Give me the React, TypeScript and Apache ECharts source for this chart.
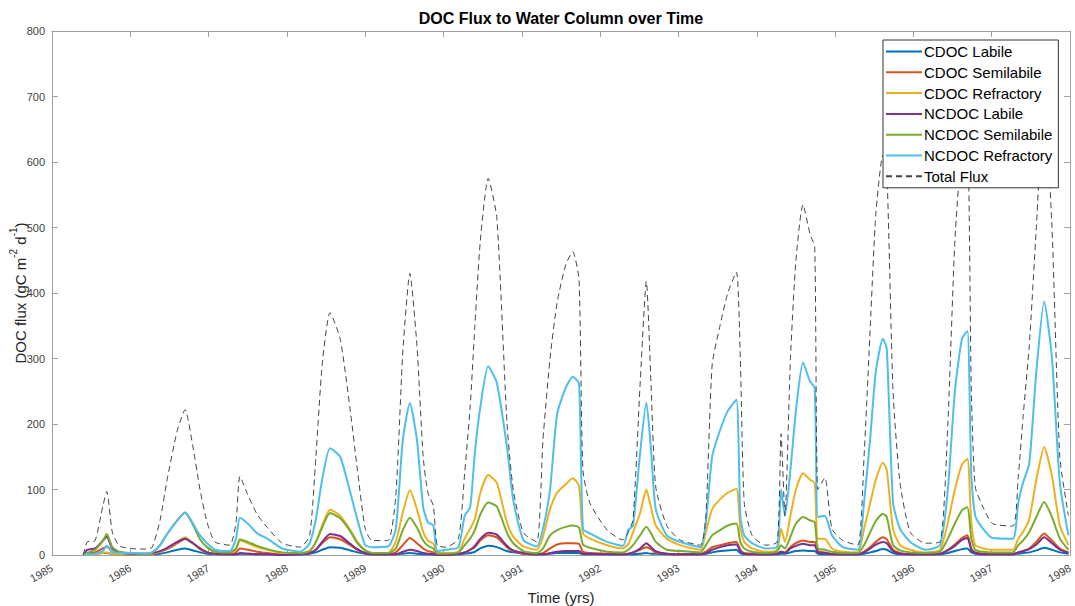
import React, { useEffect, useRef } from "react";
import * as echarts from "echarts";

const years = [
  1985.40, 1985.45, 1985.55, 1985.65, 1985.70, 1985.77, 1985.86, 1986.00, 1986.20, 1986.28,
  1986.38, 1986.47, 1986.60, 1986.70, 1986.80, 1986.89, 1986.98, 1987.08, 1987.27, 1987.35,
  1987.40, 1987.50, 1987.62, 1987.75, 1987.94, 1988.17, 1988.29, 1988.37, 1988.45, 1988.55,
  1988.68, 1988.81, 1988.90, 1989.00, 1989.09, 1989.29, 1989.39, 1989.48, 1989.57, 1989.66,
  1989.74, 1989.80, 1989.87, 1989.92, 1990.03, 1990.19, 1990.27, 1990.34, 1990.40, 1990.47,
  1990.57, 1990.68, 1990.81, 1990.89, 1991.02, 1991.19, 1991.27, 1991.36, 1991.45, 1991.56,
  1991.65, 1991.73, 1991.78, 1991.87, 1992.09, 1992.29, 1992.36, 1992.42, 1992.51, 1992.59,
  1992.65, 1992.71, 1992.85, 1993.02, 1993.28, 1993.35, 1993.43, 1993.53, 1993.63, 1993.74,
  1993.79, 1993.84, 1993.94, 1994.11, 1994.26, 1994.31, 1994.36, 1994.43, 1994.50, 1994.59,
  1994.68, 1994.74, 1994.78, 1994.87, 1994.96, 1995.10, 1995.29, 1995.37, 1995.45, 1995.52,
  1995.61, 1995.66, 1995.74, 1995.83, 1995.96, 1996.15, 1996.34, 1996.44, 1996.53, 1996.62,
  1996.69, 1996.74, 1996.79, 1996.89, 1997.01, 1997.27, 1997.34, 1997.40, 1997.48, 1997.57,
  1997.67, 1997.77, 1997.87, 1997.98,
];

const cdocLabile = [
  0, 1, 2, 3, 3, 2, 1, 1, 1, 1,
  2, 4, 8, 10, 7, 4, 2, 1, 1, 1,
  2, 2, 1, 1, 1, 1, 2, 4, 8, 12,
  11, 7, 4, 2, 1, 1, 1, 2, 3, 2,
  1, 1, 1, 0, 0, 1, 2, 3, 5, 10,
  14, 12, 6, 4, 2, 1, 1, 2, 3, 3,
  3, 3, 1, 1, 1, 1, 1, 1, 2, 3,
  2, 2, 1, 1, 1, 2, 4, 6, 7, 8,
  3, 1, 1, 1, 1, 2, 2, 4, 6, 7,
  6, 6, 2, 1, 1, 1, 1, 2, 4, 6,
  9, 8, 3, 1, 1, 1, 1, 3, 6, 9,
  10, 4, 2, 1, 1, 1, 2, 3, 4, 7,
  11, 8, 4, 2,
];

const cdocSemilabile = [
  0, 2, 4, 10, 13, 5, 2, 1, 1, 2,
  5, 9, 18, 25, 18, 9, 4, 2, 1, 4,
  10, 8, 5, 3, 1, 1, 3, 8, 18, 27,
  24, 15, 8, 3, 1, 1, 4, 15, 26, 18,
  10, 6, 4, 1, 1, 2, 4, 8, 12, 22,
  30, 27, 12, 6, 2, 1, 3, 10, 16, 18,
  18, 17, 5, 3, 2, 1, 2, 4, 8, 12,
  9, 4, 2, 1, 1, 5, 12, 15, 18, 20,
  8, 3, 2, 1, 2, 5, 4, 12, 18, 22,
  20, 20, 6, 4, 2, 1, 1, 5, 12, 20,
  27, 24, 8, 3, 1, 1, 2, 8, 16, 26,
  30, 10, 4, 2, 1, 1, 4, 6, 10, 20,
  33, 22, 10, 4,
];

const cdocRefractory = [
  0, 0, 1, 3, 4, 2, 1, 1, 1, 2,
  5, 10, 20, 27, 18, 10, 4, 2, 1, 8,
  22, 18, 12, 8, 3, 2, 6, 20, 45, 69,
  60, 38, 20, 7, 3, 3, 20, 65, 99, 70,
  35, 22, 17, 4, 3, 5, 25, 40, 55, 95,
  122, 110, 49, 28, 13, 8, 28, 70, 95, 108,
  117, 106, 33, 25, 15, 10, 17, 35, 64, 100,
  72, 45, 25, 15, 8, 35, 70, 85, 95, 101,
  40, 20, 10, 5, 8, 40, 20, 60, 100, 125,
  115, 110, 25, 25, 10, 5, 4, 40, 80, 115,
  141, 130, 40, 15, 8, 4, 8, 50, 100, 138,
  147, 50, 15, 10, 8, 8, 25, 35, 55, 115,
  165, 120, 45, 15,
];

const ncdocLabile = [
  0, 8, 10, 22, 28, 10, 4, 2, 2, 3,
  6, 11, 20, 25, 18, 10, 4, 2, 1, 1,
  3, 2, 1, 1, 0, 1, 3, 8, 20, 32,
  29, 17, 9, 3, 1, 1, 1, 5, 8, 6,
  3, 2, 1, 0, 0, 2, 4, 8, 14, 25,
  34, 31, 14, 7, 3, 1, 1, 3, 5, 6,
  6, 6, 2, 2, 1, 1, 2, 4, 10, 18,
  12, 6, 2, 1, 1, 3, 8, 12, 15, 16,
  6, 2, 1, 1, 2, 5, 3, 10, 14, 17,
  15, 15, 4, 3, 1, 1, 1, 4, 10, 16,
  20, 18, 6, 2, 1, 1, 2, 7, 14, 23,
  26, 8, 3, 1, 1, 1, 4, 6, 9, 16,
  27, 18, 8, 3,
];

const ncdocSemilabile = [
  0, 3, 8, 22, 32, 12, 5, 3, 2, 4,
  15, 32, 53, 65, 46, 24, 12, 5, 4, 10,
  24, 20, 14, 9, 4, 3, 6, 20, 42, 64,
  56, 36, 18, 7, 3, 3, 10, 38, 57, 42,
  22, 14, 10, 2, 2, 4, 15, 25, 38, 62,
  80, 74, 34, 18, 6, 3, 10, 30, 38, 43,
  45, 42, 16, 11, 5, 4, 8, 15, 30, 43,
  33, 20, 8, 6, 4, 15, 30, 38, 45, 48,
  20, 10, 5, 3, 5, 15, 10, 28, 48, 58,
  53, 50, 10, 8, 5, 3, 3, 15, 35, 52,
  63, 58, 15, 7, 4, 3, 5, 25, 48, 68,
  73, 25, 8, 5, 4, 4, 15, 22, 35, 58,
  81, 58, 25, 8,
];

const ncdocRefractory = [
  0, 1, 2, 6, 14, 5, 3, 3, 2, 4,
  15, 32, 53, 65, 48, 30, 18, 8, 6, 25,
  57, 48, 33, 25, 10, 5, 18, 55, 115, 163,
  150, 95, 54, 15, 12, 13, 40, 176, 232, 176,
  73, 50, 45, 6, 8, 12, 60, 73, 156, 226,
  288, 263, 165, 84, 23, 13, 40, 100, 215, 255,
  272, 262, 40, 33, 20, 14, 38, 45, 156, 233,
  160, 70, 30, 20, 12, 50, 150, 190, 220, 237,
  60, 30, 18, 10, 12, 100, 60, 130, 220, 294,
  265, 255, 58, 60, 30, 12, 8, 80, 180, 280,
  330, 315, 80, 40, 20, 8, 15, 100, 250, 330,
  342, 120, 60, 40, 26, 25, 80, 110, 140, 280,
  387, 300, 110, 30,
];

const totalFlux = [
  0, 20, 22, 75, 97, 35, 14, 10, 9, 12,
  53, 115, 190, 222, 165, 100, 50, 20, 15, 50,
  120, 92, 62, 42, 18, 12, 30, 150, 290, 370,
  330, 220, 130, 40, 22, 22, 90, 310, 430, 320,
  150, 95, 75, 15, 12, 25, 125, 226, 350, 480,
  575, 515, 202, 100, 34, 20, 176, 300, 385, 443,
  463, 420, 130, 79, 38, 23, 35, 54, 260, 418,
  260, 104, 45, 23, 15, 60, 290, 350, 400, 432,
  300, 80, 30, 15, 20, 185, 60, 300, 450, 535,
  490, 470, 100, 118, 40, 22, 15, 150, 350, 520,
  610, 590, 250, 110, 35, 18, 20, 200, 480, 620,
  630, 250, 104, 73, 48, 44, 120, 210, 320, 500,
  700, 500, 150, 60,
];

const seriesNames = [
  "CDOC Labile",
  "CDOC Semilabile",
  "CDOC Refractory",
  "NCDOC Labile",
  "NCDOC Semilabile",
  "NCDOC Refractory",
  "Total Flux",
];
const seriesColors = ["#0072BD", "#D95319", "#EDB120", "#7E2F8E", "#77AC30", "#4DBEEE", "#444444"];
const seriesValues = [cdocLabile, cdocSemilabile, cdocRefractory, ncdocLabile, ncdocSemilabile, ncdocRefractory, totalFlux];

const FONT = "'Liberation Sans', Arial, Helvetica, sans-serif";
const AXIS_COLOR = "#a0a0a0";

export default function App() {
  const ref = useRef<HTMLDivElement>(null);

  useEffect(() => {
    document.body.style.margin = "0";
    if (!ref.current) return;
    const chart = echarts.init(ref.current, undefined, { renderer: "svg" });

    const series = seriesNames.map((name, k) => {
      const isTotal = k === 6;
      return {
        name,
        type: "line",
        xAxisIndex: 0,
        yAxisIndex: 0,
        symbol: "none",
        showSymbol: false,
        smooth: 0.2,
        z: isTotal ? 3 : 2,
        data: years.map((t, i) => [t, seriesValues[k][i]]),
        lineStyle: {
          width: isTotal ? 1 : 2,
          color: seriesColors[k],
          type: isTotal ? [6, 4] : "solid",
        },
        itemStyle: { color: seriesColors[k] },
      };
    });

    const commonAxisLine = { show: true, onZero: false, lineStyle: { color: AXIS_COLOR, width: 1 } };
    const commonTick = { show: true, inside: true, length: 6, lineStyle: { color: AXIS_COLOR } };

    chart.setOption({
      animation: false,
      textStyle: { fontFamily: FONT },
      grid: { left: 52, top: 31, width: 1018, height: 524, containLabel: false, outerBoundsMode: "none" },
      graphic: [
        {
          type: "text",
          x: 561,
          y: 10,
          style: {
            text: "DOC Flux to Water Column over Time",
            fill: "#000",
            font: `bold 16px ${FONT}`,
            textAlign: "center",
          },
        },
        {
          type: "text",
          x: 18,
          y: 293,
          rotation: Math.PI / 2,
          style: {
            text: "{n|DOC flux (gC m}{s|-2}{n| d}{s|-1}{n|)}",
            fill: "#262626",
            font: `15px ${FONT}`,
            align: "center",
            verticalAlign: "middle",
            rich: {
              n: { fontSize: 15, fontFamily: FONT, lineHeight: 20, verticalAlign: "bottom", fill: "#262626" },
              s: { fontSize: 10, fontFamily: FONT, lineHeight: 20, verticalAlign: "top", fill: "#262626" },
            },
          },
        },
      ],
      legend: {
        orient: "vertical",
        left: 883,
        top: 40,
        itemWidth: 36,
        itemHeight: 14,
        itemGap: 5.8,
        padding: [4, 6, 4, 2],
        backgroundColor: "#ffffff",
        borderColor: "#333333",
        borderWidth: 1,
        borderRadius: 0,
        itemStyle: { opacity: 0 },
        textStyle: { fontSize: 15, color: "#000", fontFamily: FONT, padding: [0, 0, 0, -3] },
        data: seriesNames,
      },
      xAxis: [
        {
          type: "value",
          position: "bottom",
          min: 1985,
          max: 1998,
          interval: 1,
          name: "Time (yrs)",
          nameLocation: "middle",
          nameGap: 35,
          nameTextStyle: { fontSize: 15, color: "#262626", fontFamily: FONT },
          axisLine: commonAxisLine,
          axisTick: commonTick,
          axisLabel: {
            rotate: 30,
            fontSize: 11,
            color: "#404040",
            margin: 12,
            formatter: (v: number) => String(v),
          },
          splitLine: { show: false },
        },
        {
          type: "value",
          position: "top",
          min: 1985,
          max: 1998,
          interval: 1,
          axisLine: commonAxisLine,
          axisTick: commonTick,
          axisLabel: { show: false },
          splitLine: { show: false },
        },
      ],
      yAxis: [
        {
          type: "value",
          position: "left",
          min: 0,
          max: 800,
          interval: 100,
          axisLine: commonAxisLine,
          axisTick: commonTick,
          axisLabel: { fontSize: 11, color: "#404040", margin: 7 },
          splitLine: { show: false },
        },
        {
          type: "value",
          position: "right",
          min: 0,
          max: 800,
          interval: 100,
          axisLine: commonAxisLine,
          axisTick: commonTick,
          axisLabel: { show: false },
          splitLine: { show: false },
        },
      ],
      series,
    });

    return () => chart.dispose();
  }, []);

  return <div ref={ref} style={{ width: 1075, height: 606 }} />;
}
